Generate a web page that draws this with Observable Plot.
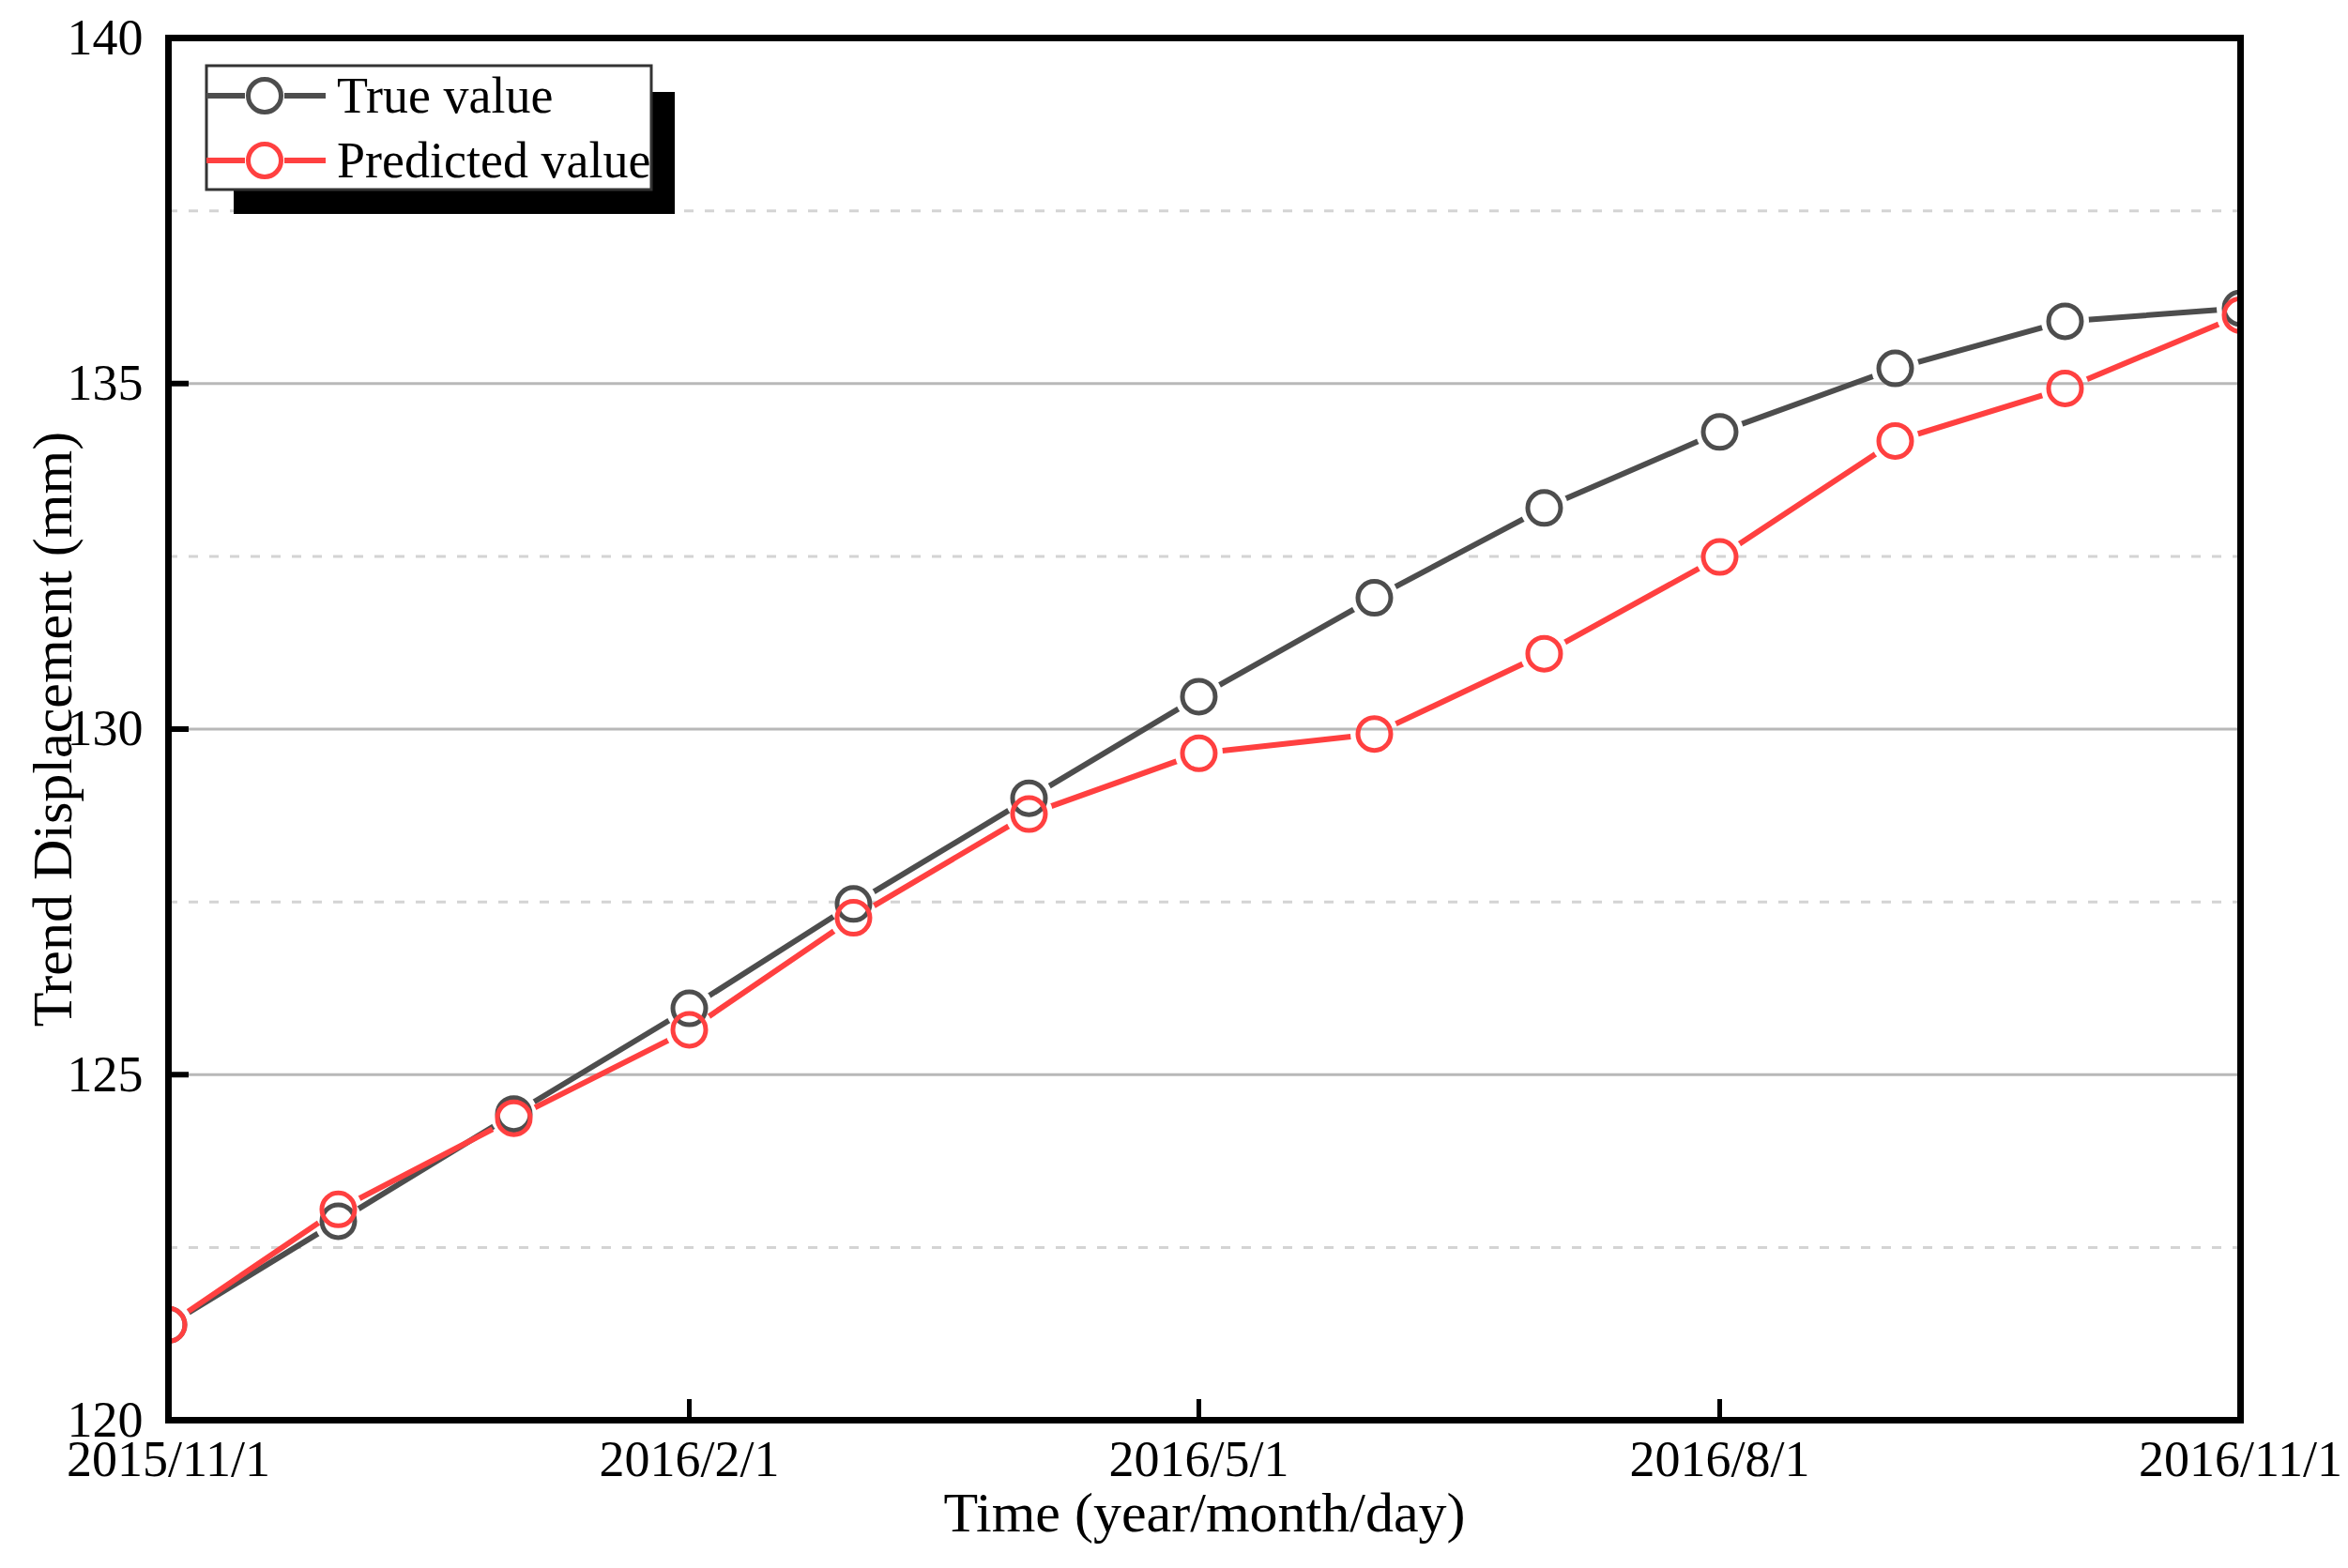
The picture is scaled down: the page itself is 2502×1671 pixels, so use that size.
<!DOCTYPE html>
<html><head><meta charset="utf-8">
<script src="https://cdn.jsdelivr.net/npm/d3@7"></script>
<script src="https://cdn.jsdelivr.net/npm/@observablehq/plot@0.6"></script>
<style>html,body{margin:0;padding:0;background:#fff;} #chart{width:2502px;height:1671px;}</style>
</head><body><div id="chart"></div>
<script>
const months = ["2015-11-01","2015-12-01","2016-01-01","2016-02-01","2016-03-01","2016-04-01","2016-05-01","2016-06-01","2016-07-01","2016-08-01","2016-09-01","2016-10-01","2016-11-01"];
const trueValues = [121.38,122.88,124.43,125.96,127.47,129.0,130.47,131.9,133.2,134.3,135.22,135.9,136.09];
const predictedValues = [121.38,123.05,124.37,125.65,127.27,128.77,129.65,129.93,131.09,132.49,134.17,134.93,135.99];
const xTickDates = ["2015-11-01","2016-02-01","2016-05-01","2016-08-01","2016-11-01"];
const yMajorTicks = [120,125,130,135,140];
const yMinorGrid = [122.5,127.5,132.5,137.5];
const seriesNames = ["True value","Predicted value"];
const seriesColors = ["#4d4d4d","#ff4040"];
const xTitle = "Time (year/month/day)";
const yTitle = "Trend Displacement (mm)";

const parse = d3.utcParse("%Y-%m-%d");
const trueRows = months.map((m,i)=>({date: parse(m), value: trueValues[i]}));
const predRows = months.map((m,i)=>({date: parse(m), value: predictedValues[i]}));
const xTicks = xTickDates.map(parse);

const W=2502,H=1671, mt=40, mr=115, mb=158, ml=179;
const pw=W-ml-mr, ph=H-mt-mb;
const R=17.5, LW=6, CW=5;

const svg = Plot.plot({
  width: W, height: H, marginTop: mt, marginRight: mr, marginBottom: mb, marginLeft: ml,
  style: {fontFamily: "'Liberation Serif','Times New Roman',serif", background: "white", color: "black"},
  x: {type: "utc", domain: [parse(months[0]), parse(months[months.length-1])]},
  y: {domain: [120,140]},
  marks: [
    Plot.ruleY(yMinorGrid, {stroke:"#d4d4d4", strokeWidth:3, strokeDasharray:"10,12"}),
    Plot.ruleY(yMajorTicks.slice(1,-1), {stroke:"#b8b8b8", strokeWidth:3}),
    Plot.ruleY(yMajorTicks, {stroke:"black", strokeWidth:6, insetRight: pw-22}),
    Plot.ruleX(xTicks, {stroke:"black", strokeWidth:5, insetTop: ph-22}),
    Plot.axisX({ticks: xTicks, tickFormat: d3.utcFormat("%Y/%-m/%-d"), tickSize: 0, tickPadding: 21, fontSize: 54, label: null}),
    Plot.axisY({ticks: yMajorTicks, tickSize: 0, tickPadding: 27, fontSize: 54, label: null}),
    Plot.text([xTitle], {text: d=>d, frameAnchor:"bottom", dy: 118, fontSize: 60, textAnchor: "middle"}),
    Plot.text([yTitle], {text: d=>d, frameAnchor:"left", dx: -123, rotate: -90, fontSize: 60, textAnchor: "middle"}),
    Plot.line(trueRows, {x:"date", y:"value", stroke: seriesColors[0], strokeWidth: LW}),
    Plot.dot(trueRows, {x:"date", y:"value", r:R, stroke: seriesColors[0], strokeWidth: CW, fill:"none", clip:true}),
    Plot.line(predRows, {x:"date", y:"value", stroke: seriesColors[1], strokeWidth: LW}),
    Plot.dot(predRows, {x:"date", y:"value", r:R, stroke: seriesColors[1], strokeWidth: CW, fill:"none", clip:true}),
    Plot.frame({stroke:"black", strokeWidth:7})
  ]
});

// gaps in lines around their own symbols (masks built from the rendered dot positions)
const ns = "http://www.w3.org/2000/svg";
const defs = document.createElementNS(ns, "defs");
svg.insertBefore(defs, svg.firstChild);
const lineGroups = svg.querySelectorAll('g[aria-label="line"]');
const dotGroups = svg.querySelectorAll('g[aria-label="dot"]');
function centerOf(c) {
  let cx = c.getAttribute("cx"), cy = c.getAttribute("cy");
  if (cx == null || cy == null) {
    const t = c.getAttribute("transform") || "";
    const m = t.match(/translate\(\s*([-\d.eE]+)[ ,]+([-\d.eE]+)/);
    if (m) { cx = m[1]; cy = m[2]; }
  }
  return [+cx, +cy];
}
lineGroups.forEach((lg, k) => {
  const mask = document.createElementNS(ns, "mask");
  mask.setAttribute("id", "gapmask" + k);
  mask.setAttribute("maskUnits", "userSpaceOnUse");
  mask.setAttribute("x", -10); mask.setAttribute("y", -10);
  mask.setAttribute("width", W + 20); mask.setAttribute("height", H + 20);
  const rect = document.createElementNS(ns, "rect");
  rect.setAttribute("x", -10); rect.setAttribute("y", -10);
  rect.setAttribute("width", W + 20); rect.setAttribute("height", H + 20); rect.setAttribute("fill", "white");
  mask.appendChild(rect);
  dotGroups[k].querySelectorAll("circle, path").forEach(c => {
    const [cx, cy] = centerOf(c);
    const m = document.createElementNS(ns, "circle");
    m.setAttribute("cx", cx);
    m.setAttribute("cy", cy);
    m.setAttribute("r", R + 8);
    m.setAttribute("fill", "black");
    mask.appendChild(m);
  });
  defs.appendChild(mask);
  lg.setAttribute("mask", "url(#gapmask" + k + ")");
});

// legend
const leg = d3.select(svg).append("g").attr("text-anchor", "start");
leg.append("rect").attr("x", 249).attr("y", 98).attr("width", 470).attr("height", 130).attr("fill", "black");
leg.append("rect").attr("x", 220).attr("y", 70).attr("width", 474).attr("height", 132)
  .attr("fill", "white").attr("stroke", "#333").attr("stroke-width", 3);
const rowY = [102, 171];
seriesNames.forEach((name, i) => {
  const g = leg.append("g");
  g.append("line").attr("x1", 220).attr("x2", 261).attr("y1", rowY[i]).attr("y2", rowY[i]).attr("stroke", seriesColors[i]).attr("stroke-width", LW);
  g.append("line").attr("x1", 303).attr("x2", 347).attr("y1", rowY[i]).attr("y2", rowY[i]).attr("stroke", seriesColors[i]).attr("stroke-width", LW);
  g.append("circle").attr("cx", 282).attr("cy", rowY[i]).attr("r", R).attr("fill", "none").attr("stroke", seriesColors[i]).attr("stroke-width", CW);
  g.append("text").attr("x", 359).attr("y", rowY[i] + 18).attr("font-size", 54).attr("fill", "black").attr("text-anchor", "start").text(name);
});

document.getElementById("chart").appendChild(svg);
</script>
</body></html>
